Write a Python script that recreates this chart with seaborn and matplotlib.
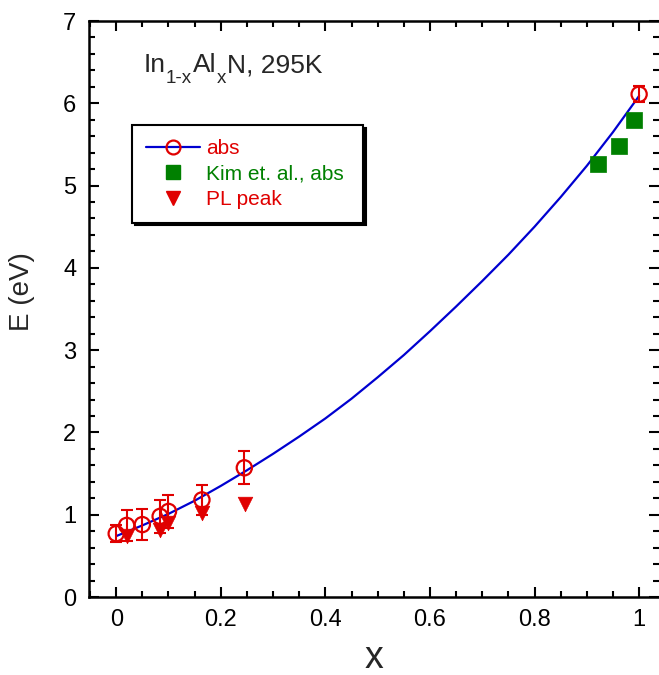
import numpy as np
import pandas as pd
import matplotlib
matplotlib.use("Agg")
import matplotlib.pyplot as plt
import seaborn as sns
from matplotlib.lines import Line2D
from matplotlib.ticker import MultipleLocator

# ---- data ----
curve_x = [0.0, 0.05, 0.10, 0.15, 0.20, 0.25, 0.30, 0.35, 0.40, 0.45, 0.50,
           0.55, 0.60, 0.65, 0.70, 0.75, 0.80, 0.85, 0.90, 0.95, 1.00]
curve_E = [0.74, 0.87, 1.01, 1.17, 1.35, 1.54, 1.74, 1.95, 2.17, 2.41, 2.67,
           2.94, 3.23, 3.53, 3.84, 4.16, 4.50, 4.86, 5.24, 5.65, 6.09]

abs_x = [0.0, 0.02, 0.05, 0.084, 0.10, 0.164, 0.245, 1.0]
abs_E = [0.77, 0.87, 0.88, 0.98, 1.04, 1.18, 1.57, 6.11]
abs_err = [0.10, 0.19, 0.19, 0.20, 0.20, 0.18, 0.20, 0.10]

kim_x = [0.922, 0.962, 0.99]
kim_E = [5.26, 5.48, 5.80]

pl_x = [0.02, 0.084, 0.10, 0.164, 0.247]
pl_E = [0.74, 0.82, 0.90, 1.02, 1.13]

title_parts = ["In", "1-x", "Al", "x", "N, 295K"]
title_is_sub = [False, True, False, True, False]

RED = "#e00000"
BLUE = "#0000d0"
GREEN = "#008000"

sns.set_theme(style="white")
plt.rcParams["font.family"] = ["Liberation Sans", "DejaVu Sans"]

fig = plt.figure(figsize=(6.59, 6.75), dpi=100)
ax = fig.add_axes([89 / 659, 1 - 597 / 675, 1 - 89 / 659, (597 - 21) / 675])

df_curve = pd.DataFrame({"x": curve_x, "E": curve_E})
sns.lineplot(data=df_curve, x="x", y="E", ax=ax, color=BLUE, lw=1.6, zorder=2)

ax.errorbar(abs_x, abs_E, yerr=abs_err, fmt="none", ecolor=RED, elinewidth=1.5,
            capsize=4, capthick=1.5, zorder=3)
sns.scatterplot(x=pl_x, y=pl_E, ax=ax, marker="v", s=110, color=RED,
                edgecolor=RED, linewidth=0.5, zorder=4)
sns.scatterplot(x=abs_x, y=abs_E, ax=ax, marker="o", s=120, facecolor="none",
                edgecolor=RED, linewidth=1.6, zorder=5)
sns.scatterplot(x=kim_x, y=kim_E, ax=ax, marker="s", s=120, color=GREEN,
                edgecolor=GREEN, linewidth=0.5, zorder=4)

ax.set_xlim(-0.052, 1.038)
ax.set_ylim(0, 7)
ax.xaxis.set_minor_locator(MultipleLocator(0.05))
ax.yaxis.set_major_locator(MultipleLocator(1))
ax.yaxis.set_minor_locator(MultipleLocator(0.2))
ax.set_xticks([0, 0.2, 0.4, 0.6, 0.8, 1.0])
ax.set_xticklabels(["0", "0.2", "0.4", "0.6", "0.8", "1"])
ax.tick_params(which="both", direction="in", top=True, right=True,
               left=True, bottom=True, width=1.5, colors="black")
ax.tick_params(which="major", length=7, labelsize=17, pad=9)
ax.tick_params(which="minor", length=4)

for s in ["left", "bottom", "top"]:
    ax.spines[s].set_color("black")
    ax.spines[s].set_linewidth(1.8)
ax.spines["right"].set_visible(False)

ax.set_xlabel("x", fontsize=27)
ax.set_ylabel("E (eV)", fontsize=20)
ax.xaxis.set_label_coords(0.5, -0.075)
ax.yaxis.set_label_coords(-0.095, 0.53)

# title with large, lowered subscripts (built piece by piece)
first = ax.text(0.052, 6.38, title_parts[0], fontsize=19, va="baseline", ha="left")
prev, last_main = first, first
for part, sub in zip(title_parts[1:], title_is_sub[1:]):
    if sub:
        t = ax.annotate(part, xy=(1, 0), xycoords=(prev, last_main),
                        xytext=(0.5, -7.4), textcoords="offset points",
                        fontsize=13.5, va="bottom", ha="left")
    else:
        t = ax.annotate(part, xy=(1, 0), xycoords=(prev, last_main),
                        xytext=(0.5, 0), textcoords="offset points",
                        fontsize=19, va="bottom", ha="left")
        last_main = t
    prev = t

handles = [
    Line2D([], [], color=BLUE, lw=1.6, marker="o", markersize=10,
           markerfacecolor="none", markeredgecolor=RED, markeredgewidth=1.6),
    Line2D([], [], color=GREEN, lw=0, marker="s", markersize=10),
    Line2D([], [], color=RED, lw=0, marker="v", markersize=10),
]
labels = ["abs", "Kim et. al., abs ", "PL peak"]
leg = ax.legend(handles, labels, loc="upper left", bbox_to_anchor=(0.0754, 0.819),
                borderaxespad=0, fontsize=15, frameon=True, fancybox=False,
                shadow={"color": "black", "alpha": 1}, handlelength=2.6,
                handletextpad=0.3, labelspacing=0.32, borderpad=0.65)
leg.get_frame().set_edgecolor("black")
leg.get_frame().set_linewidth(1.5)
for t, c in zip(leg.get_texts(), [RED, GREEN, RED]):
    t.set_color(c)

fig.savefig("out.png", dpi=100)
